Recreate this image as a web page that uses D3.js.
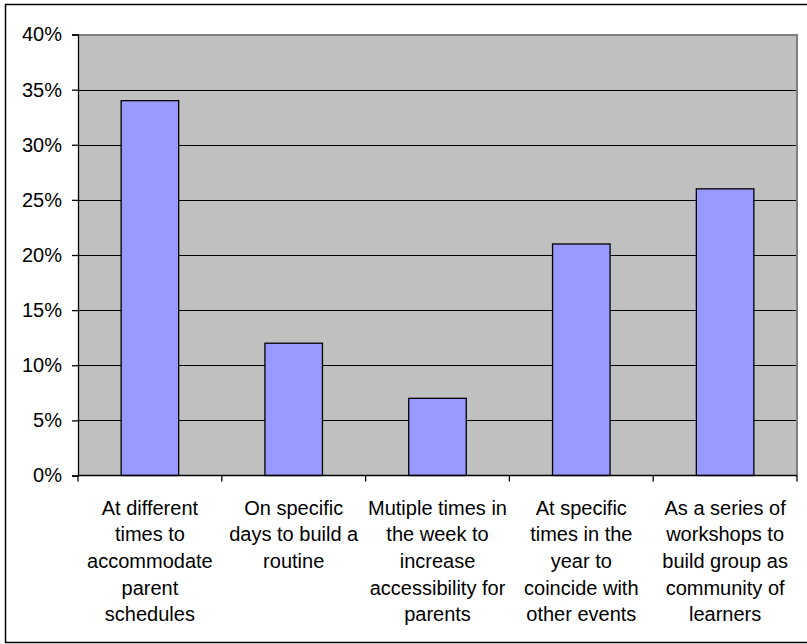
<!DOCTYPE html>
<html>
<head>
<meta charset="utf-8">
<script src="https://cdn.jsdelivr.net/npm/d3@7"></script>
<style>
  html, body { margin: 0; padding: 0; background: #ffffff; }
  svg { display: block; }
  text { font-family: "Liberation Sans", Arial, sans-serif; }
</style>
</head>
<body>
<script>
// Preferred workshop scheduling options (share of responses)
const categories = [
  ["At different", "times to", "accommodate", "parent", "schedules"],
  ["On specific", "days to build a", "routine"],
  ["Mutiple times in", "the week to", "increase", "accessibility for", "parents"],
  ["At specific", "times in the", "year to", "coincide with", "other events"],
  ["As a series of", "workshops to", "build group as", "community of", "learners"]
];
const values = [0.34, 0.12, 0.07, 0.21, 0.26];
const yTicks = [0, 0.05, 0.10, 0.15, 0.20, 0.25, 0.30, 0.35, 0.40];

const W = 807, H = 644;
const plot = { left: 78, top: 34.5, right: 797, bottom: 475.5 };

const svg = d3.select("body").append("svg")
  .attr("width", W).attr("height", H);

// Outer chart frame
svg.append("rect")
  .attr("x", 5.5).attr("y", 4.5)
  .attr("width", 820).attr("height", 638)
  .attr("fill", "#ffffff").attr("stroke", "#000000").attr("stroke-width", 1.5);

const x = d3.scaleBand()
  .domain(d3.range(categories.length))
  .range([plot.left, plot.right])
  .paddingInner(0.6).paddingOuter(0.3);

const xOuter = d3.scaleBand()
  .domain(d3.range(categories.length))
  .range([plot.left, plot.right]);

const y = d3.scaleLinear().domain([0, 0.40]).range([plot.bottom, plot.top]);

// Plot area background
svg.append("rect")
  .attr("x", plot.left).attr("y", plot.top)
  .attr("width", plot.right - plot.left).attr("height", plot.bottom - plot.top)
  .attr("fill", "#c0c0c0");

// Horizontal gridlines
svg.append("g")
  .selectAll("line")
  .data(yTicks.filter(t => t > 0 && t < 0.40))
  .join("line")
  .attr("x1", plot.left).attr("x2", plot.right)
  .attr("y1", d => Math.round(y(d)) + 0.5).attr("y2", d => Math.round(y(d)) + 0.5)
  .attr("stroke", "#000000").attr("stroke-width", 1);

// Plot border: gray on top and right
svg.append("path")
  .attr("d", `M${plot.left},${plot.top + 0.5}H${plot.right}V${plot.bottom}`)
  .attr("fill", "none").attr("stroke", "#808080").attr("stroke-width", 2);

// Bars
svg.append("g")
  .selectAll("rect")
  .data(values)
  .join("rect")
  .attr("x", (d, i) => x(i))
  .attr("y", d => y(d))
  .attr("width", x.bandwidth())
  .attr("height", d => y(0) - y(d))
  .attr("fill", "#9999ff")
  .attr("stroke", "#000000").attr("stroke-width", 1.3);

// Y axis
const yAxis = d3.axisLeft(y)
  .tickValues(yTicks)
  .tickFormat(d3.format(".0%"))
  .tickSize(6).tickPadding(10);
const gy = svg.append("g")
  .attr("transform", `translate(${plot.left},0)`)
  .call(yAxis);
gy.select(".domain").attr("stroke", "#000").attr("stroke-width", 1.3);
gy.selectAll(".tick line").attr("stroke", "#000").attr("stroke-width", 1.3);
gy.selectAll(".tick text")
  .attr("fill", "#000").attr("font-size", 20)
  .attr("font-family", "'Liberation Sans', Arial, sans-serif");

// X axis baseline with category boundary ticks
const gx = svg.append("g").attr("transform", `translate(0,${plot.bottom})`);
gx.append("line")
  .attr("x1", plot.left).attr("x2", plot.right)
  .attr("stroke", "#000").attr("stroke-width", 1.3);
const boundaries = d3.range(categories.length + 1)
  .map(i => i < categories.length ? xOuter(i) : xOuter(i - 1) + xOuter.bandwidth());
gx.selectAll("line.tick")
  .data(boundaries)
  .join("line")
  .attr("class", "tick")
  .attr("x1", d => d).attr("x2", d => d)
  .attr("y1", 0).attr("y2", 6)
  .attr("stroke", "#000").attr("stroke-width", 1.3);

// Category labels, multi-line
const labels = svg.append("g")
  .selectAll("text")
  .data(categories)
  .join("text")
  .attr("text-anchor", "middle")
  .attr("font-size", 20)
  .attr("fill", "#000")
  .attr("transform", (d, i) => `translate(${xOuter(i) + xOuter.bandwidth() / 2},${plot.bottom + 39})`);
labels.selectAll("tspan")
  .data(d => d)
  .join("tspan")
  .attr("x", 0)
  .attr("y", (d, j) => j * 26.7)
  .text(d => d);
</script>
</body>
</html>
